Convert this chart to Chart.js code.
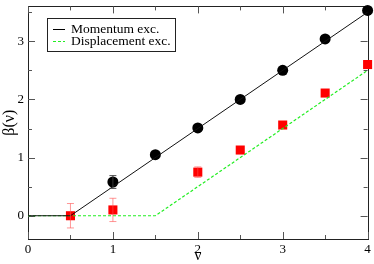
<!DOCTYPE html>
<html><head><meta charset="utf-8">
<script src="https://cdn.jsdelivr.net/npm/chart.js@4/dist/chart.umd.min.js"></script>
<style>html,body{margin:0;padding:0;background:#fff}#wrap{width:374px;height:264px}</style>
</head><body><div id="wrap"><canvas id="c" width="374" height="264"></canvas></div>
<script>
// ---- data ----
const momLabel = "Momentum exc.";
const dispLabel = "Displacement exc.";
const momX = [1, 1.5, 2, 2.5, 3, 3.5, 4];
const momY = [0.58, 1.05, 1.51, 2.0, 2.5, 3.04, 3.53];
const momErr = [0.11, 0, 0, 0, 0, 0, 0];
const dispX = [0.5, 1, 2, 2.5, 3, 3.5, 4];
const dispY = [0.0, 0.1, 0.75, 1.13, 1.56, 2.11, 2.6];
const dispErr = [0.21, 0.2, 0.09, 0, 0, 0, 0];
const momFitX = [0, 0.5, 4];
const momFitY = [0, 0, 3.5];
const dispFitX = [0, 1.5, 4];
const dispFitY = [0, 0, 2.5];
const xTicks = [0, 1, 2, 3, 4];
const yTicks = [0, 1, 2, 3];
const xMinor = [0.5, 1.5, 2.5, 3.5];
const yMinor = [0.5, 1.5, 2.5, 3.5];
const xTitle = "ν";
const yTitle = "β(ν)";

const pts = (xs, ys) => xs.map((x, i) => ({x: x, y: ys[i]}));
const SERIF = "'Liberation Serif', 'DejaVu Serif', serif";

const framePlugin = {
  id: 'frame',
  beforeDatasetsDraw(chart) {
    const {ctx, chartArea: a, scales: {x, y}} = chart;
    ctx.save();
    ctx.strokeStyle = '#222';
    ctx.lineWidth = 1;
    ctx.strokeRect(Math.round(a.left) + 0.5, Math.round(a.top) + 0.5, Math.round(a.right - a.left), Math.round(a.bottom - a.top));
    ctx.strokeStyle = '#555';
    const tick = (vals, len) => {
      vals.forEach(v => {
        const px = Math.round(x.getPixelForValue(v)) + 0.5;
        ctx.beginPath();
        ctx.moveTo(px, a.bottom); ctx.lineTo(px, a.bottom - len);
        ctx.moveTo(px, a.top); ctx.lineTo(px, a.top + len);
        ctx.stroke();
      });
    };
    const ytick = (vals, len) => {
      vals.forEach(v => {
        const py = Math.round(y.getPixelForValue(v)) + 0.5;
        ctx.beginPath();
        ctx.moveTo(a.left, py); ctx.lineTo(a.left + len, py);
        ctx.moveTo(a.right, py); ctx.lineTo(a.right - len, py);
        ctx.stroke();
      });
    };
    tick(xTicks, 7); tick(xMinor, 4);
    ytick(yTicks, 7); ytick(yMinor, 4);
    ctx.restore();
  },
  afterDatasetsDraw(chart) {
    const {ctx, scales: {x, y}} = chart;
    // error bars
    const drawErr = (xs, ys, es, color) => {
      ctx.save();
      ctx.strokeStyle = color;
      ctx.lineWidth = 1;
      xs.forEach((xv, i) => {
        if (!es[i]) return;
        const px = x.getPixelForValue(xv);
        const t = y.getPixelForValue(ys[i] + es[i]);
        const b = y.getPixelForValue(ys[i] - es[i]);
        ctx.beginPath();
        ctx.moveTo(px, t); ctx.lineTo(px, b);
        ctx.moveTo(px - 3.5, t); ctx.lineTo(px + 3.5, t);
        ctx.moveTo(px - 3.5, b); ctx.lineTo(px + 3.5, b);
        ctx.stroke();
      });
      ctx.restore();
    };
    drawErr(momX, momY, momErr, 'rgba(60,60,60,0.9)');
    drawErr(dispX, dispY, dispErr, 'rgba(255,80,80,0.6)');
    // legend
    ctx.save();
    ctx.fillStyle = '#fff';
    ctx.fillRect(47.5, 18.5, 128, 33);
    ctx.strokeStyle = '#222';
    ctx.lineWidth = 1;
    ctx.strokeRect(47.5, 18.5, 128, 33);
    ctx.beginPath();
    ctx.strokeStyle = '#000';
    ctx.moveTo(53, 29.5); ctx.lineTo(65, 29.5); ctx.stroke();
    ctx.beginPath();
    ctx.strokeStyle = '#22ee22';
    ctx.setLineDash([3, 2]);
    ctx.moveTo(53, 41.5); ctx.lineTo(65, 41.5); ctx.stroke();
    ctx.setLineDash([]);
    ctx.fillStyle = '#000';
    ctx.font = "13.5px " + SERIF;
    ctx.textBaseline = 'middle';
    ctx.fillText(momLabel, 71, 29);
    ctx.fillText(dispLabel, 71, 41);
    ctx.restore();
  }
};

new Chart(document.getElementById('c'), {
  type: 'scatter',
  data: {
    datasets: [
      {label: momLabel, data: pts(momFitX, momFitY), showLine: true, borderColor: '#111', borderWidth: 1, pointRadius: 0, fill: false, clip: false},
      {label: dispLabel, data: pts(dispFitX, dispFitY), showLine: true, borderColor: '#22ee22', borderWidth: 1.2, borderDash: [3, 2], pointRadius: 0, fill: false, clip: false},
      {label: 'mom', data: pts(momX, momY), showLine: false, pointStyle: 'circle', pointRadius: 5.5, backgroundColor: '#000', borderColor: '#000', borderWidth: 0, clip: false},
      {label: 'disp', data: pts(dispX, dispY), showLine: false, pointStyle: 'rect', pointRadius: 6.4, backgroundColor: '#ff0000', borderColor: '#ff0000', borderWidth: 0, clip: false}
    ]
  },
  options: {
    responsive: false,
    animation: false,
    devicePixelRatio: 1,
    layout: {padding: {left: 0, right: 5, top: 2, bottom: 0}},
    plugins: {legend: {display: false}, tooltip: {enabled: false}},
    scales: {
      x: {
        type: 'linear', min: 0, max: 4,
        grid: {display: false, drawTicks: false},
        border: {display: false},
        afterBuildTicks: s => { s.ticks = xTicks.map(v => ({value: v})); },
        afterFit: s => { s.height = 25; s.paddingLeft = 0; s.paddingRight = 0; },
        ticks: {color: '#000', padding: 3, font: {family: SERIF, size: 13}, maxRotation: 0, autoSkip: false},
        title: {display: true, text: xTitle, color: '#000', font: {family: SERIF, size: 16, lineHeight: 1}, padding: {top: 0, bottom: 0.5}}
      },
      y: {
        type: 'linear', min: -0.4, max: 3.6,
        grid: {display: false, drawTicks: false},
        border: {display: false},
        afterBuildTicks: s => { s.ticks = yTicks.map(v => ({value: v})); },
        afterFit: s => { s.width = 28; s.paddingTop = 0; s.paddingBottom = 0; },
        ticks: {color: '#000', padding: 4, font: {family: SERIF, size: 13}, autoSkip: false},
        title: {display: true, text: yTitle, color: '#000', font: {family: SERIF, size: 16, lineHeight: 1}, padding: {top: 2, bottom: 0}}
      }
    }
  },
  plugins: [framePlugin]
});
</script></body></html>
